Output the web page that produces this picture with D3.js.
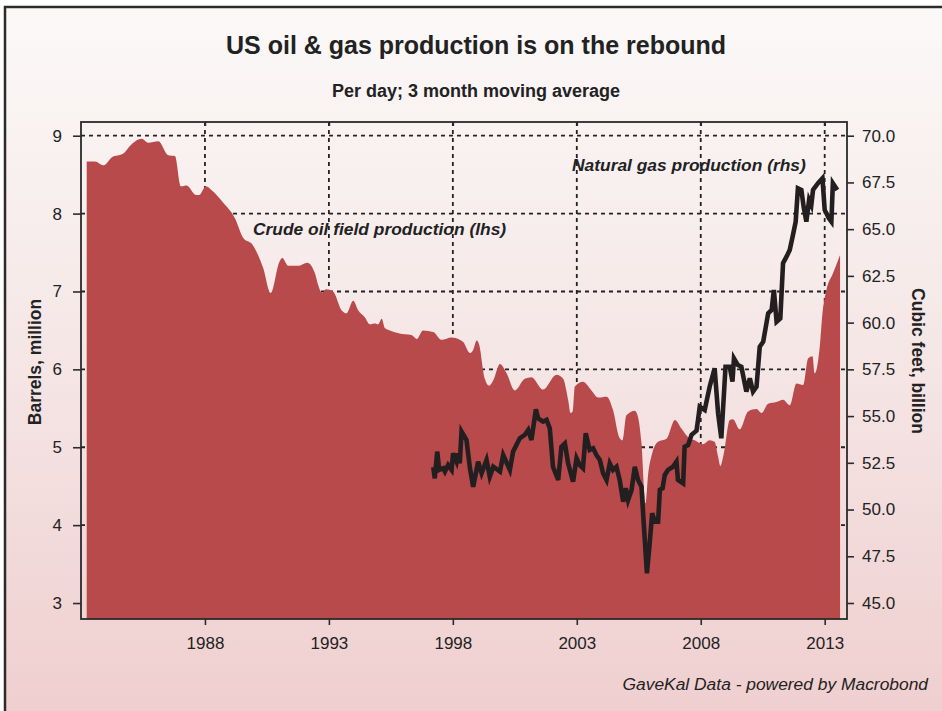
<!DOCTYPE html>
<html>
<head>
<meta charset="utf-8">
<script src="https://cdn.jsdelivr.net/npm/d3@7"></script>
<style>
  body { margin: 0; background: #fff; }
  svg { display: block; font-family: 'Liberation Sans', Arial, Helvetica, sans-serif; }
</style>
</head>
<body>
<svg id="chart" width="942" height="711"></svg>
<script>
// crude oil field production, million barrels per day (lhs)
const oilYears = [
  1983.23, 1983.56, 1983.92, 1984.24, 1984.71, 1984.98, 1985.45, 1985.71, 1986.12, 1986.52,
  1986.79, 1987.03, 1987.26, 1987.64, 1987.77, 1988.04, 1988.27, 1988.74, 1989.21, 1989.54,
  1989.92, 1990.35, 1990.65, 1991.00, 1991.12, 1991.36, 1991.76, 1992.13, 1992.44, 1992.57,
  1992.73, 1992.88, 1993.17, 1993.51, 1993.71, 1993.98, 1994.18, 1994.45, 1994.65, 1994.85,
  1994.99, 1995.13, 1995.26, 1995.46, 1995.73, 1996.06, 1996.33, 1996.54, 1996.80, 1997.21,
  1997.54, 1997.95, 1998.28, 1998.42, 1998.69, 1998.82, 1998.96, 1999.05, 1999.29, 1999.46,
  1999.63, 1999.90, 2000.17, 2000.50, 2000.90, 2001.17, 2001.64, 2002.18, 2002.45, 2002.65,
  2002.75, 2002.83, 2002.92, 2003.25, 2003.59, 2003.86, 2004.20, 2004.46, 2004.71, 2004.84,
  2005.00, 2005.34, 2005.47, 2005.61, 2005.77, 2005.88, 2006.04, 2006.28, 2006.62, 2006.96,
  2007.22, 2007.49, 2007.76, 2008.09, 2008.36, 2008.56, 2008.70, 2008.79, 2008.93, 2009.17,
  2009.30, 2009.57, 2009.91, 2010.25, 2010.45, 2010.72, 2011.05, 2011.32, 2011.59, 2011.86,
  2012.13, 2012.33, 2012.51, 2012.60, 2012.80, 2012.91, 2013.07, 2013.33, 2013.62
]
const oilValues = [
  8.67, 8.67, 8.62, 8.72, 8.77, 8.87, 8.96, 8.91, 8.93, 8.75,
  8.74, 8.35, 8.36, 8.24, 8.24, 8.35, 8.30, 8.14, 7.94, 7.69,
  7.60, 7.30, 6.98, 7.38, 7.43, 7.33, 7.33, 7.37, 7.23, 7.08,
  6.98, 7.03, 7.00, 6.76, 6.72, 6.88, 6.76, 6.67, 6.58, 6.59,
  6.58, 6.65, 6.53, 6.50, 6.47, 6.45, 6.44, 6.39, 6.50, 6.48,
  6.38, 6.41, 6.38, 6.35, 6.21, 6.25, 6.37, 6.33, 5.88, 5.79,
  5.86, 6.07, 5.95, 5.73, 5.88, 5.90, 5.74, 5.93, 5.88, 5.61,
  5.44, 5.46, 5.78, 5.84, 5.73, 5.64, 5.65, 5.48, 5.13, 5.09,
  5.41, 5.47, 5.39, 5.05, 4.28, 4.66, 4.92, 5.07, 5.11, 5.35,
  5.24, 5.13, 5.09, 5.04, 5.09, 5.07, 4.88, 4.76, 4.92, 5.35,
  5.36, 5.23, 5.46, 5.49, 5.44, 5.56, 5.58, 5.61, 5.54, 5.82,
  5.80, 6.14, 6.17, 5.95, 6.29, 6.72, 7.02, 7.23, 7.47
]

// natural gas production, billion cubic feet per day (rhs)
const gasYears = [
  1997.21, 1997.27, 1997.37, 1997.45, 1997.61, 1997.68, 1997.81, 1997.95, 1998.01, 1998.15,
  1998.21, 1998.28, 1998.35, 1998.55, 1998.69, 1998.82, 1999.02, 1999.16, 1999.36, 1999.49,
  1999.63, 1999.90, 2000.03, 2000.30, 2000.43, 2000.70, 2000.90, 2001.04, 2001.17, 2001.35,
  2001.44, 2001.64, 2001.78, 2001.91, 2002.04, 2002.25, 2002.38, 2002.52, 2002.65, 2002.85,
  2002.99, 2003.12, 2003.25, 2003.36, 2003.52, 2003.66, 2003.79, 2003.93, 2004.06, 2004.20,
  2004.33, 2004.46, 2004.60, 2004.73, 2004.87, 2004.98, 2005.07, 2005.21, 2005.34, 2005.47,
  2005.61, 2005.70, 2005.83, 2005.94, 2006.04, 2006.15, 2006.28, 2006.35, 2006.46, 2006.55,
  2006.68, 2006.88, 2007.02, 2007.08, 2007.29, 2007.35, 2007.49, 2007.63, 2007.83, 2007.89,
  2007.96, 2008.16, 2008.36, 2008.56, 2008.70, 2008.83, 2009.00, 2009.17, 2009.28, 2009.34,
  2009.50, 2009.64, 2009.84, 2009.98, 2010.11, 2010.25, 2010.38, 2010.52, 2010.72, 2010.86,
  2010.95, 2011.06, 2011.21, 2011.32, 2011.46, 2011.59, 2011.72, 2011.83, 2011.92, 2012.06,
  2012.15, 2012.26, 2012.37, 2012.46, 2012.53, 2012.73, 2012.91, 2013.00, 2013.17, 2013.27,
  2013.33, 2013.51
]
const gasValues = [
  52.26, 51.67, 53.10, 52.12, 52.21, 52.03, 52.38, 52.12, 53.01, 52.56,
  53.01, 52.47, 54.17, 53.72, 52.21, 51.22, 52.56, 51.94, 52.65, 51.76,
  52.29, 52.03, 52.92, 52.12, 53.10, 53.81, 53.99, 54.26, 53.72, 55.36,
  54.88, 54.70, 54.79, 54.35, 52.29, 51.58, 53.36, 53.54, 52.47, 51.49,
  52.74, 52.38, 52.21, 54.08, 53.19, 53.28, 52.92, 52.65, 51.94, 51.58,
  52.47, 52.12, 52.29, 51.58, 50.42, 51.14, 50.51, 51.05, 52.29, 51.58,
  51.22, 49.26, 46.59, 48.19, 49.80, 49.35, 49.35, 51.05, 51.14, 51.85,
  52.12, 52.29, 52.56, 51.58, 51.40, 53.36, 53.45, 54.00, 54.22, 54.79,
  55.50, 55.33, 56.57, 57.56, 55.15, 53.81, 57.64, 57.64, 56.84, 58.09,
  57.73, 57.64, 56.31, 57.02, 56.31, 56.57, 58.71, 58.98, 60.50, 60.68,
  61.75, 60.05, 60.23, 63.18, 63.53, 63.89, 64.69, 65.40, 67.19, 67.10,
  66.20, 65.40, 66.56, 66.29, 67.10, 67.46, 67.72, 66.03, 65.58, 65.40,
  67.46, 67.10
]

const xTicks = [1988, 1993, 1998, 2003, 2008, 2013]
const leftTicks = [3, 4, 5, 6, 7, 8, 9]
const rightTicks = [45, 47.5, 50, 52.5, 55, 57.5, 60, 62.5, 65, 67.5, 70]

const oil = oilYears.map((y, i) => ({ year: y, value: oilValues[i] }))
const gas = gasYears.map((y, i) => ({ year: y, value: gasValues[i] }))

const W = 942, H = 711
const plotL = 81, plotR = 847, plotT = 122, plotB = 619

const svg = d3.select('#chart')

/* card background */
const defs = svg.append('defs')
const grad = defs.append('linearGradient')
  .attr('id', 'bg').attr('x1', 0).attr('y1', 0).attr('x2', 0).attr('y2', 1)
grad.append('stop').attr('offset', '0%').attr('stop-color', '#fbf9f8')
grad.append('stop').attr('offset', '50%').attr('stop-color', '#f5e5e5')
grad.append('stop').attr('offset', '100%').attr('stop-color', '#efcdcd')

svg.append('rect')
  .attr('x', 5).attr('y', 7)
  .attr('width', W + 20).attr('height', H + 20)
  .attr('fill', 'url(#bg)')
  .attr('stroke', '#2b2b2b')
  .attr('stroke-width', 2.5)

/* scales */
const x = d3.scaleLinear().domain([1983.0, 2013.9]).range([plotL, plotR])
const yL = d3.scaleLinear().domain([2.795, 9.176]).range([plotB, plotT])
const yR = d3.scaleLinear().domain([44.144, 70.733]).range([plotB, plotT])

/* grid */
const grid = svg.append('g')
  .attr('stroke', '#222')
  .attr('stroke-width', 1.8)
  .attr('stroke-dasharray', '4,4')

grid.selectAll('.hgrid')
  .data(leftTicks.filter(d => d > 3))
  .enter().append('line')
  .attr('x1', plotL).attr('x2', plotR)
  .attr('y1', d => yL(d)).attr('y2', d => yL(d))

grid.selectAll('.vgrid')
  .data(xTicks)
  .enter().append('line')
  .attr('x1', d => x(d)).attr('x2', d => x(d))
  .attr('y1', plotT).attr('y2', plotB)

/* oil area */
const area = d3.area()
  .x(d => x(d.year))
  .y0(plotB)
  .y1(d => yL(d.value))
  .curve(d3.curveMonotoneX)

svg.append('path')
  .datum(oil)
  .attr('d', area)
  .attr('fill', '#b94a4c')

/* gas line */
const line = d3.line()
  .x(d => x(d.year))
  .y(d => yR(d.value))

svg.append('path')
  .datum(gas)
  .attr('d', line)
  .attr('fill', 'none')
  .attr('stroke', '#231f20')
  .attr('stroke-width', 4.6)
  .attr('stroke-linejoin', 'miter')

/* frame */
svg.append('rect')
  .attr('x', plotL).attr('y', plotT)
  .attr('width', plotR - plotL).attr('height', plotB - plotT)
  .attr('fill', 'none')
  .attr('stroke', '#2b2b2b')
  .attr('stroke-width', 1.8)

/* axes */
const styleAxis = g => {
  g.select('.domain').remove()
  g.selectAll('.tick line').attr('stroke', '#2b2b2b').attr('stroke-width', 1.6)
  g.selectAll('.tick text').attr('fill', '#222').style('font-size', '17px')
}

svg.append('g')
  .attr('transform', `translate(${plotL},0)`)
  .call(d3.axisLeft(yL).tickValues(leftTicks).tickSize(8).tickPadding(11).tickFormat(d3.format('d')))
  .call(styleAxis)

svg.append('g')
  .attr('transform', `translate(${plotR},0)`)
  .call(d3.axisRight(yR).tickValues(rightTicks).tickSize(7).tickPadding(8).tickFormat(d3.format('.1f')))
  .call(styleAxis)

svg.append('g')
  .attr('transform', `translate(0,${plotB})`)
  .call(d3.axisBottom(x).tickValues(xTicks).tickSize(6).tickPadding(12).tickFormat(d3.format('d')))
  .call(styleAxis)

svg.append('g')
  .attr('transform', `translate(0,${plotT})`)
  .call(d3.axisBottom(x).tickValues(xTicks).tickSize(4).tickFormat(''))
  .call(styleAxis)

/* texts */
svg.append('text')
  .attr('x', 476).attr('y', 54)
  .attr('text-anchor', 'middle')
  .attr('font-weight', 'bold')
  .attr('font-size', 25)
  .attr('fill', '#222')
  .text('US oil & gas production is on the rebound')

svg.append('text')
  .attr('x', 476).attr('y', 97)
  .attr('text-anchor', 'middle')
  .attr('font-weight', 'bold')
  .attr('font-size', 18)
  .attr('fill', '#222')
  .text('Per day; 3 month moving average')

svg.append('text')
  .attr('transform', 'translate(41,362) rotate(-90)')
  .attr('text-anchor', 'middle')
  .attr('font-weight', 'bold')
  .attr('font-size', 17.5)
  .attr('fill', '#222')
  .text('Barrels, million')

svg.append('text')
  .attr('transform', 'translate(912,361) rotate(90)')
  .attr('text-anchor', 'middle')
  .attr('font-weight', 'bold')
  .attr('font-size', 17.5)
  .attr('fill', '#222')
  .text('Cubic feet, billion')

svg.append('text')
  .attr('x', 253).attr('y', 235)
  .attr('font-weight', 'bold')
  .attr('font-style', 'italic')
  .attr('font-size', 17.4)
  .attr('fill', '#222')
  .text('Crude oil field production (lhs)')

svg.append('text')
  .attr('x', 572).attr('y', 171)
  .attr('font-weight', 'bold')
  .attr('font-style', 'italic')
  .attr('font-size', 17.4)
  .attr('fill', '#222')
  .text('Natural gas production (rhs)')

svg.append('text')
  .attr('x', 928).attr('y', 690)
  .attr('text-anchor', 'end')
  .attr('font-style', 'italic')
  .attr('font-size', 17.4)
  .attr('fill', '#222')
  .text('GaveKal Data - powered by Macrobond')
</script>
</body>
</html>
